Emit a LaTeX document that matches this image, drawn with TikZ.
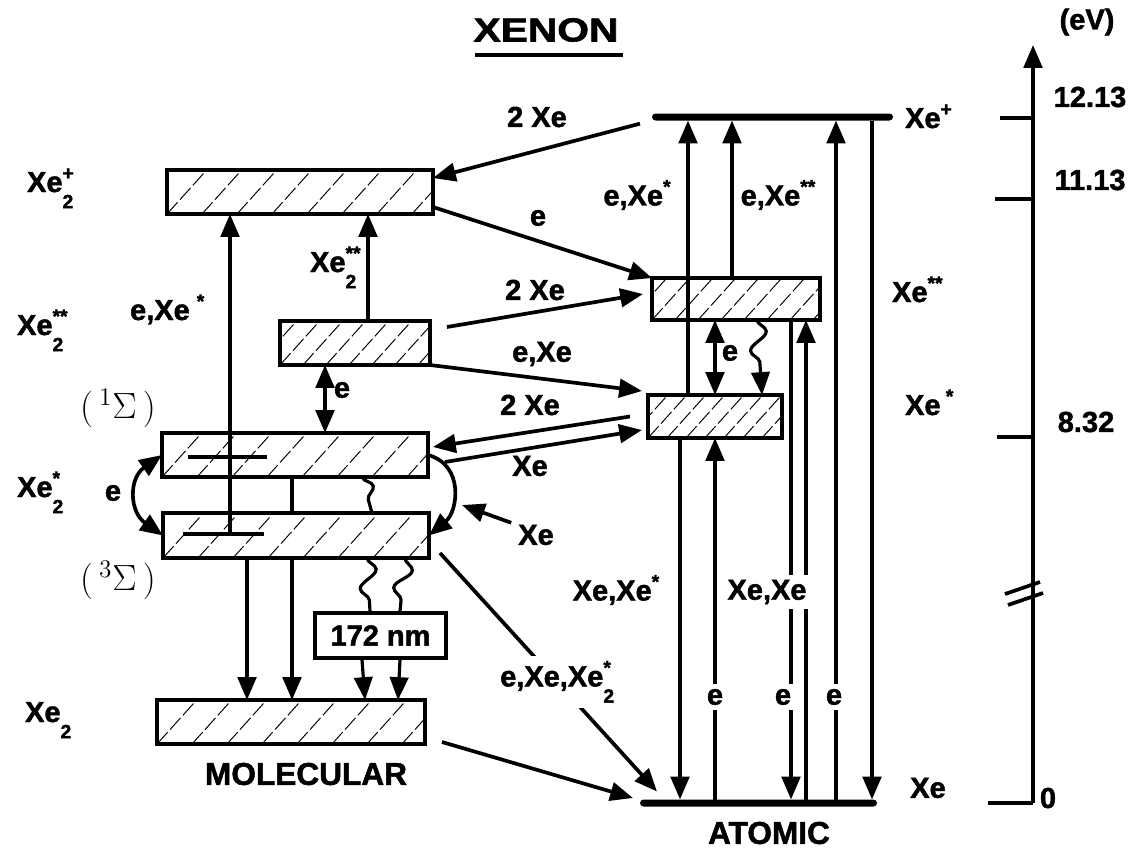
\documentclass[tikz,border=0pt]{standalone}
\usepackage{fontspec}
\setmainfont{Liberation Sans}[BoldFeatures={FakeBold=1.6}]
\usetikzlibrary{arrows.meta,decorations.pathmorphing}

\newcommand{\lbl}{\fontsize{16.5}{19}\selectfont\bfseries}
\newcommand{\smf}{\fontsize{11}{11}\selectfont\bfseries}
\newcommand{\hiscr}[1]{\raisebox{0.42em}{\smf #1}}
\newcommand{\loscr}[1]{\raisebox{-0.56em}{\smf #1}}
\newcommand{\hilo}[2]{\rlap{\hiscr{#2}}\loscr{#1}}

\begin{document}
\begin{tikzpicture}[x=0.02cm, y=-0.02cm, >={Triangle[length=13pt,width=10.5pt]},
    hatch sep/.store in=\hsep, hatch sep=0.7cm,
    hatched/.style={draw, line width=1.9pt, inner sep=0pt, outer sep=0pt,
      path picture={\foreach \k in {-4,...,22}
        \draw[line width=0.55pt, dash pattern=on 9pt off 2pt]
          ([xshift=\k*\hsep]path picture bounding box.south west) -- ++(48:1.8cm);}},
    level/.style={fill=black, inner sep=0pt, outer sep=0pt, minimum height=0.14cm, rounded corners=2pt},
    arr/.style={->, line width=2.1pt},
    dbl/.style={<->, line width=2.1pt},
    wavy/.style={line width=1.8pt, decorate, decoration={snake, segment length=0.75cm, amplitude=0.17cm}},
    wavyarr/.style={wavy, ->, decoration={post length=0.42cm}},
    txt/.style={font=\lbl, inner sep=1pt},
    cutlbl/.style={txt, fill=white, inner sep=3pt},
    sig/.style={font=\fontsize{20}{22}\selectfont, inner sep=1pt}]
    \useasboundingbox (0,0) rectangle (1133,849);

    % 标题
    \node[font=\fontsize{19}{21}\selectfont\bfseries] (title) at (546,30) {\scalebox{1.22}[1]{XENON}};
    \draw[line width=2.6pt] (475,55) -- (623,55);

    % 分子能级
    \node[hatched, minimum width=5.32cm, minimum height=0.88cm] (mxp) at (300,192) {};
    \node[hatched, hatch sep=0.46cm, minimum width=3cm, minimum height=0.88cm] (mxss) at (355,343) {};
    \node[hatched, minimum width=5.32cm, minimum height=0.88cm] (msing) at (295,455) {};
    \node[hatched, minimum width=5.32cm, minimum height=0.9cm] (mtrip) at (296,535.5) {};
    \node[hatched, minimum width=5.36cm, minimum height=0.88cm] (mgnd) at (291,722) {};
    \node[draw, line width=1.9pt, minimum width=2.62cm, minimum height=0.9cm, font=\lbl] (nm) at (380.5,635.5) {172 nm};
    \coordinate (tbar) at (230,534);
    \draw[line width=2.6pt] (188,457) -- (267,457);
    \draw[line width=2.6pt] (183,534) -- (264,534);

    % 原子能级
    \node[level, minimum width=4.82cm] (axp) at (772.5,117) {};
    \node[hatched, hatch sep=0.46cm, minimum width=3.36cm, minimum height=0.84cm] (ass) at (736,299) {};
    \node[hatched, hatch sep=0.38cm, minimum width=2.68cm, minimum height=0.86cm] (as) at (715,416.5) {};
    \node[level, minimum width=4.74cm] (agnd) at (758.5,803) {};

    % 分子跃迁
    \draw[arr] (tbar) -- (mxp.south -| tbar);
    \draw[arr] (mxss.north -| 368,0) -- (mxp.south -| 368,0);
    \draw[dbl] (msing.north -| 325,0) -- (mxss.south -| 325,0);
    \draw[line width=2.1pt] (msing.south -| 292,0) -- (mtrip.north -| 292,0);
    \draw[wavy] (msing.south -| 362,0) -- (mtrip.north -| 372,0);
    \draw[dbl] (msing.west) to[out=215, in=145, looseness=1.3] (mtrip.west);
    \draw[arr] (msing.east) to[out=-15, in=40, looseness=1.2] (mtrip.east);
    \node[txt] (xeq) at (536,535) {Xe};
    \coordinate (xeqt) at (462,505);
    \draw[arr] ([xshift=-0.1cm]xeq.north west) -- (xeqt);
    \draw[arr] (mtrip.south -| 247,0) -- (mgnd.north -| 247,0);
    \draw[arr] (mtrip.south -| 292,0) -- (mgnd.north -| 292,0);
    \draw[wavy] (mtrip.south -| 367,0) -- (nm.north -| 370,0);
    \draw[wavy] (mtrip.south -| 405,0) -- (nm.north -| 400,0);
    \draw[wavyarr] (nm.south -| 362,0) -- (mgnd.north -| 365,0);
    \draw[wavyarr] (nm.south -| 400,0) -- (mgnd.north -| 398,0);

    % 分子与原子之间
    \draw[arr, shorten <=0.25cm] (axp.south west) -- ([yshift=0.28cm]mxp.east);
    \draw[arr] ([yshift=-0.3cm]mxp.east) -- (ass.north west);
    \draw[arr] ([shift={(0.34cm,-0.12cm)}]mxss.north east) -- ([shift={(-0.18cm,0.1cm)}]ass.west);
    \draw[arr] (mxss.south east) -- ([shift={(-0.12cm,0.08cm)}]as.north west);
    \draw[arr] ([xshift=-0.36cm]as.west) -- ([shift={(0.1cm,-0.28cm)}]msing.north east);
    \draw[arr] ([shift={(0.34cm,-0.14cm)}]msing.east) -- ([shift={(-0.12cm,-0.27cm)}]as.west);
    \draw[arr] ([shift={(0.22cm,0.1cm)}]mtrip.south east) --
      node[cutlbl, pos=0.54] (lexx) {e,Xe,Xe\hilo{2}{*}} ([shift={(0.34cm,0.16cm)}]agnd.north west);
    \draw[arr] ([shift={(0.34cm,0.04cm)}]mgnd.south east) -- ([shift={(-0.14cm,0.1cm)}]agnd.west);

    % 原子跃迁
    \draw[arr] (as.north -| 688,0) -- (axp.south -| 688,0);
    \draw[arr] (as.south -| 680,0) -- (agnd.north -| 680,0);
    \draw[arr] (ass.north -| 732,0) -- (axp.south -| 732,0);
    \draw[dbl] (as.north -| 715,0) -- (ass.south -| 715,0);
    \draw[wavyarr] (ass.south -| 757,0) -- (as.north -| 762,0);
    \draw[arr] (agnd.north -| 715,0) -- (as.south -| 715,0);
    \draw[arr] (ass.south -| 791,0) -- (agnd.north -| 791,0);
    \draw[arr] (agnd.north -| 806,0) -- (ass.south -| 806,0);
    \draw[arr] (agnd.north -| 836,0) -- (axp.south -| 836,0);
    \draw[arr] (axp.south -| 872,0) -- (agnd.north -| 872,0);

    % 标注
    \node[txt] (l2xa) at (537,117) {2 Xe};
    \node[txt] (lea) at (538,218) {e};
    \node[txt] (l2xb) at (535,290) {2 Xe};
    \node[txt] (lexa) at (542,354) {e,Xe};
    \node[txt] (l2xc) at (530,405) {2 Xe};
    \node[txt] (lxb) at (530,466) {Xe};
    \node[txt] (lexs) at (637,195) {e,Xe\hiscr{*}};
    \node[txt] (lexss) at (778,195) {e,Xe\hiscr{**}};
    \node[txt] (le4) at (730,353) {e};
    \node[txt] (lxexs) at (616,590) {Xe,Xe\hiscr{*}};
    \node[cutlbl] (lxexe) at (767,592) {Xe,Xe};
    \node[cutlbl] (le1) at (715,697) {e};
    \node[cutlbl] (le2) at (783,697) {e};
    \node[cutlbl] (le3) at (834,697) {e};
    \node[txt, anchor=base west] (lmexs) at (128,320) {e,Xe\hspace{4pt}\hiscr{*}};
    \node[txt, anchor=base west] (lmxss) at (308,272) {Xe\hilo{2}{**}};
    \node[txt] (lem) at (342,390) {e};
    \node[txt] (lel) at (113,493) {e};

    % 左侧与右侧
    \node[txt, anchor=base west] (nxp) at (25,192) {Xe\hilo{2}{+}};
    \node[txt, anchor=base west] (nxss) at (15,335) {Xe\hilo{2}{**}};
    \node[txt, anchor=base west] (nxs) at (15,497) {Xe\hilo{2}{*}};
    \node[txt, anchor=base west] (nx) at (23,722) {Xe\loscr{2}};
    \node[sig] (sing) at (118,408) {$(\,{}^{1}\Sigma\,)$};
    \node[sig] (trip) at (118,580) {$(\,{}^{3}\Sigma\,)$};
    \node[txt, anchor=base west] (rxp) at (903,128) {Xe\hiscr{+}};
    \node[txt, anchor=base west] (rxss) at (890,302) {Xe\hiscr{**}};
    \node[txt, anchor=base west] (rxs) at (903,415) {Xe\hspace{3pt}\hiscr{*}};
    \node[txt] (rx) at (928,788) {Xe};
    \node[font=\fontsize{18}{20}\selectfont\bfseries] (mol) at (306,774) {MOLECULAR};
    \node[font=\fontsize{18}{20}\selectfont\bfseries] (atm) at (769,833) {ATOMIC};

    % 能量轴
    \coordinate (ax0) at (1033,803);
    \coordinate (ax1) at (1033,45);
    \draw[arr] (ax0) -- (ax1);
    \draw[line width=2.1pt] (ax0) -- ++(-45,0);
    \draw[line width=2.1pt] (1033,118) -- ++(-33,0);
    \draw[line width=2.1pt] (1033,199) -- ++(-38,0);
    \draw[line width=2.1pt] (1033,437) -- ++(-36,0);
    \draw[line width=2.1pt] (1005,594) -- (1040,582);
    \draw[line width=2.1pt] (1008,605) -- (1043,593);
    \node[txt] (ev) at (1087,22) {(eV)};
    \node[txt] (t1) at (1090,97) {12.13};
    \node[txt] (t2) at (1090,180) {11.13};
    \node[txt] (t3) at (1086,422) {8.32};
    \node[txt] (t0) at (1048,798) {0};
\end{tikzpicture}
\end{document}
